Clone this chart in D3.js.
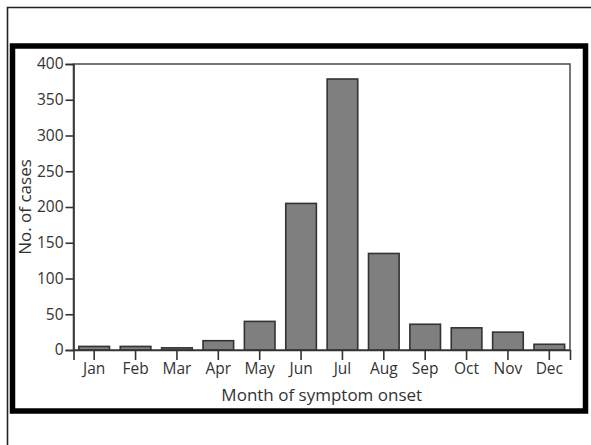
<!DOCTYPE html>
<html>
<head>
<meta charset="utf-8">
<script src="https://cdn.jsdelivr.net/npm/d3@7"></script>
<style>
  body { margin: 0; background: #fff; }
  text { font-family: "Open Sans", "Noto Sans", sans-serif; fill: #333; }
</style>
</head>
<body>
<div class="container"></div>
<script>
const w = 591;
const h = 445;
// plot area inside the thick frame
const pad = {top: 64, right: 21, bottom: 95, left: 73.5};

// data
const months = ['Jan', 'Feb', 'Mar', 'Apr', 'May', 'Jun', 'Jul', 'Aug', 'Sep', 'Oct', 'Nov', 'Dec'];
const cases = [5, 5, 3, 13, 40, 205, 379, 135, 36, 31, 25, 8];
const yTicks = [0, 50, 100, 150, 200, 250, 300, 350, 400];

const svg = d3.select('.container')
              .append('svg')
              .attr('width', w)
              .attr('height', h);

// thin outer frame (only top and left show)
svg.append('path')
   .attr('d', `M7.5,${h} V7.5 H${w}`)
   .style('fill', 'none')
   .style('stroke', '#222')
   .style('stroke-width', 1.6);

// thick frame
svg.append('rect')
   .attr('x', 12.5)
   .attr('y', 46)
   .attr('width', 573)
   .attr('height', 365)
   .style('fill', 'none')
   .style('stroke', '#000')
   .style('stroke-width', 5.5);

const xScale = d3.scaleBand()
                 .domain(months)
                 .range([pad.left, w - pad.right])
                 .paddingInner(0.26)
                 .paddingOuter(0.13);

const yScale = d3.scaleLinear()
                 .domain([0, 400])
                 .range([h - pad.bottom, pad.top]);

// plot box
svg.append('rect')
   .attr('x', pad.left)
   .attr('y', pad.top)
   .attr('width', w - pad.right - pad.left)
   .attr('height', h - pad.bottom - pad.top)
   .style('fill', 'none')
   .style('stroke', '#555')
   .style('stroke-width', 1.6);

// bars
svg.selectAll('.bar')
   .data(cases)
   .enter()
   .append('rect')
   .attr('class', 'bar')
   .attr('x', (d, i) => xScale(months[i]))
   .attr('y', (d) => yScale(d))
   .attr('width', xScale.bandwidth())
   .attr('height', (d) => yScale(0) - yScale(d))
   .style('fill', '#7f7f7f')
   .style('stroke', '#333')
   .style('stroke-width', 1.6);

// y axis
const yAxis = d3.axisLeft(yScale).tickValues(yTicks).tickSize(8).tickPadding(2);
const gy = svg.append('g')
              .attr('transform', `translate(${pad.left},0)`)
              .call(yAxis);
gy.select('.domain').style('stroke', '#333').style('stroke-width', 1.6);
gy.selectAll('.tick line').style('stroke', '#333').style('stroke-width', 1.6);
gy.selectAll('.tick text').style('font-size', '15.5px').style('fill', '#333');

// x axis
const xAxis = d3.axisBottom(xScale).tickSize(10).tickPadding(3);
const gx = svg.append('g')
              .attr('transform', `translate(0,${h - pad.bottom})`)
              .call(xAxis);
gx.select('.domain').style('stroke', '#333').style('stroke-width', 1.6);
gx.selectAll('.tick line').style('stroke', '#333').style('stroke-width', 1.6);
gx.selectAll('.tick text').style('font-size', '15.5px').style('fill', '#333');

// axis titles
svg.append('text')
   .text('Month of symptom onset')
   .attr('x', (pad.left + w - pad.right) / 2)
   .attr('y', 401)
   .attr('text-anchor', 'middle')
   .style('font-size', '17px');

svg.append('text')
   .text('No. of cases')
   .attr('text-anchor', 'middle')
   .attr('transform', `translate(31, ${(pad.top + h - pad.bottom) / 2}) rotate(-90)`)
   .style('font-size', '17px');
</script>
</body>
</html>
